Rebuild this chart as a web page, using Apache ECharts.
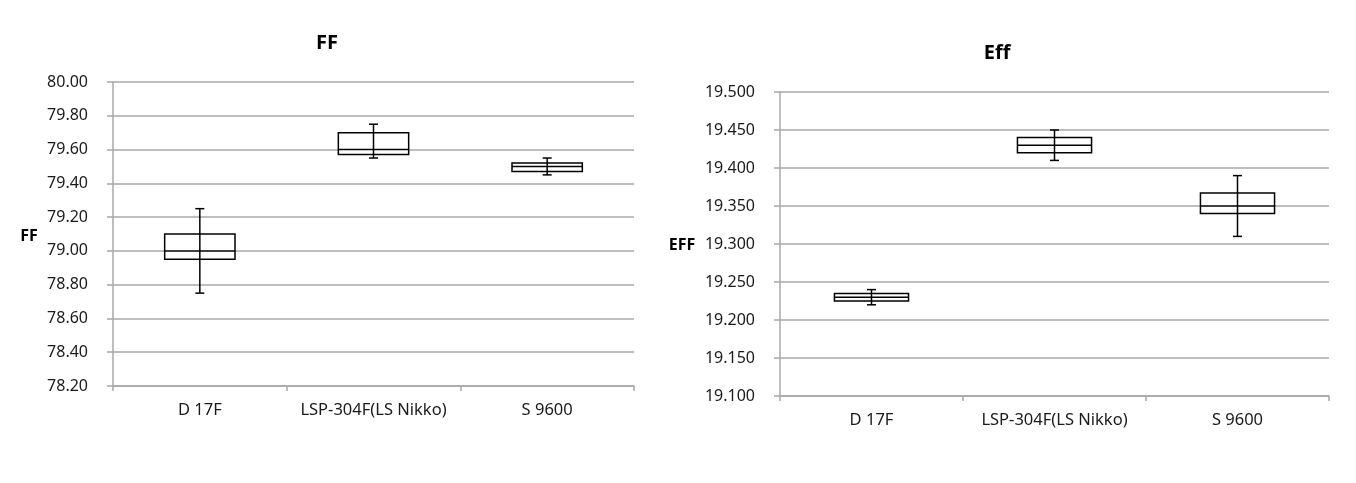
<!DOCTYPE html>
<html>
<head>
<meta charset="utf-8">
<script src="https://cdn.jsdelivr.net/npm/echarts@6/dist/echarts.min.js"></script>
<style>
html,body{margin:0;padding:0;background:#fff;}
#chart{width:1356px;height:483px;}
</style>
</head>
<body>
<div id="chart"></div>
<script>
const categories = ['D 17F', 'LSP-304F(LS Nikko)', 'S 9600'];

const ffMin    = [78.75, 79.55, 79.45];
const ffQ1     = [78.95, 79.57, 79.47];
const ffMedian = [79.00, 79.60, 79.50];
const ffQ3     = [79.10, 79.70, 79.52];
const ffMax    = [79.25, 79.75, 79.55];

const effMin    = [19.220, 19.410, 19.310];
const effQ1     = [19.225, 19.420, 19.340];
const effMedian = [19.230, 19.430, 19.350];
const effQ3     = [19.235, 19.440, 19.367];
const effMax    = [19.240, 19.450, 19.390];

const ffTitle = 'FF';
const effTitle = 'Eff';
const ffAxisName = 'FF';
const effAxisName = 'EFF';

function rows(mn, q1, md, q3, mx) {
  return categories.map((c, i) => [i, mn[i], q1[i], md[i], q3[i], mx[i]]);
}

const FONT = '"Noto Sans", "Liberation Sans", sans-serif';
const GRID_COLOR = '#a8a8a8';

function renderBox(params, api) {
  const x = api.value(0);
  const pMin = api.coord([x, api.value(1)]);
  const pQ1 = api.coord([x, api.value(2)]);
  const pMed = api.coord([x, api.value(3)]);
  const pQ3 = api.coord([x, api.value(4)]);
  const pMax = api.coord([x, api.value(5)]);
  const bw = api.size([1, 0])[0] * 0.405;
  const cx = pMed[0];
  const cap = 4.5;
  const st = { stroke: '#000', lineWidth: 1.5, fill: null };
  return {
    type: 'group',
    children: [
      { type: 'rect', shape: { x: cx - bw / 2, y: pQ3[1], width: bw, height: pQ1[1] - pQ3[1] }, style: { stroke: '#000', lineWidth: 1.5, fill: '#fff' } },
      { type: 'line', shape: { x1: cx - bw / 2, y1: pMed[1], x2: cx + bw / 2, y2: pMed[1] }, style: st },
      { type: 'line', shape: { x1: cx, y1: pMax[1], x2: cx, y2: pMin[1] }, style: st },
      { type: 'line', shape: { x1: cx - cap, y1: pMax[1], x2: cx + cap, y2: pMax[1] }, style: st },
      { type: 'line', shape: { x1: cx - cap, y1: pMin[1], x2: cx + cap, y2: pMin[1] }, style: st }
    ]
  };
}

function xAxisCfg(gi) {
  return {
    type: 'category', gridIndex: gi, data: categories, boundaryGap: true,
    axisLine: { show: true, lineStyle: { color: GRID_COLOR, width: 1.5 } },
    axisTick: { show: true, length: 5, interval: 0, alignWithLabel: false, lineStyle: { color: GRID_COLOR, width: 1.5 } },
    axisLabel: { color: '#1a1a1a', fontSize: 16.5, fontFamily: FONT, margin: 16, interval: 0 },
    splitLine: { show: false }
  };
}

function yAxisCfg(gi, min, max, interval, digits) {
  return {
    type: 'value', gridIndex: gi, min: min, max: max, interval: interval,
    axisLine: { show: true, lineStyle: { color: GRID_COLOR, width: 1.5 } },
    axisTick: { show: true, length: 6, lineStyle: { color: GRID_COLOR, width: 1.5 } },
    axisLabel: { color: '#1a1a1a', fontSize: 16, fontFamily: FONT, margin: 25,
      formatter: v => Number(v).toFixed(digits) },
    splitLine: { show: true, lineStyle: { color: GRID_COLOR, width: 1.5 } }
  };
}

const chart = echarts.init(document.getElementById('chart'), null, { renderer: 'canvas' });
chart.setOption({
  backgroundColor: '#fff',
  animation: false,
  grid: [
    { left: 113, top: 82, width: 521, height: 304 },
    { left: 780, top: 92, width: 549, height: 304 }
  ],
  xAxis: [xAxisCfg(0), xAxisCfg(1)],
  yAxis: [yAxisCfg(0, 78.2, 80, 0.2, 2), yAxisCfg(1, 19.1, 19.5, 0.05, 3)],
  graphic: [
    { type: 'text', x: 327, y: 43, style: { text: ffTitle, font: 'bold 20px ' + FONT, fill: '#000', textAlign: 'center', textVerticalAlign: 'middle' } },
    { type: 'text', x: 997, y: 53, style: { text: effTitle, font: 'bold 20px ' + FONT, fill: '#000', textAlign: 'center', textVerticalAlign: 'middle' } },
    { type: 'text', x: 29, y: 236, style: { text: ffAxisName, font: 'bold 16px ' + FONT, fill: '#000', textAlign: 'center', textVerticalAlign: 'middle' } },
    { type: 'text', x: 682, y: 245, style: { text: effAxisName, font: 'bold 16px ' + FONT, fill: '#000', textAlign: 'center', textVerticalAlign: 'middle' } }
  ],
  series: [
    { type: 'custom', xAxisIndex: 0, yAxisIndex: 0, renderItem: renderBox,
      encode: { x: 0, y: [1, 2, 3, 4, 5] },
      data: rows(ffMin, ffQ1, ffMedian, ffQ3, ffMax) },
    { type: 'custom', xAxisIndex: 1, yAxisIndex: 1, renderItem: renderBox,
      encode: { x: 0, y: [1, 2, 3, 4, 5] },
      data: rows(effMin, effQ1, effMedian, effQ3, effMax) }
  ]
});
</script>
</body>
</html>
